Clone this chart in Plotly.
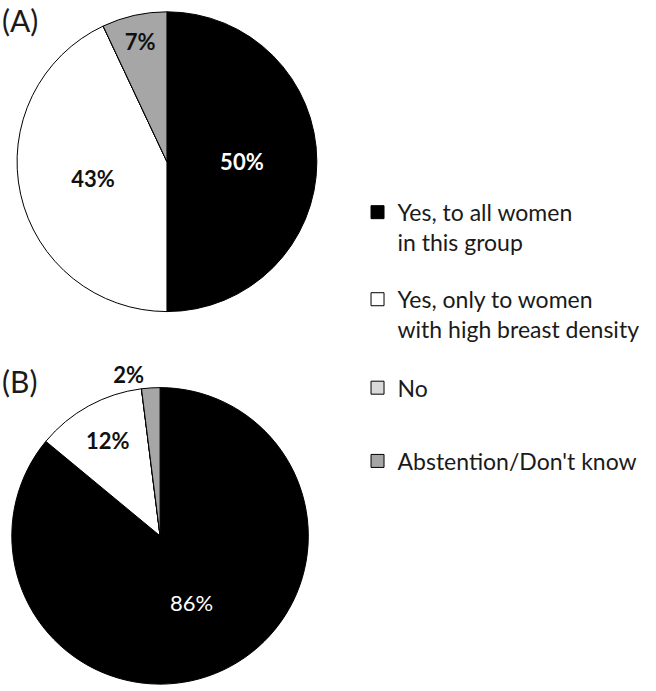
import plotly.graph_objects as go

labels = ["Yes, to all women<br>in this group",
          "Yes, only to women<br>with high breast density",
          "No",
          "Abstention/Don't know"]
colors = ["#000000", "#ffffff", "#d9d9d9", "#a6a6a6"]

# percent of respondents per panel
values_a = [50, 43, 0, 7]
values_b = [86, 12, 0, 2]

FONT = "Lato, 'Open Sans', sans-serif"

fig = go.Figure()

fig.add_trace(go.Pie(
    labels=labels, values=values_a,
    domain=dict(x=[0.026, 0.483], y=[0.549, 0.983]),
    sort=False, direction="clockwise", rotation=0,
    marker=dict(colors=colors, line=dict(color="#000000", width=1)),
    texttemplate=["<b>%{percent:.0%}</b>", "<b>%{percent:.0%}</b>", "", "<b>%{percent:.0%}</b>"],
    textposition=["inside", "inside", "none", "inside"],
    insidetextorientation="horizontal",
    textfont=dict(family=FONT, size=22, color=["#ffffff", "#111111", "#111111", "#111111"]),
    showlegend=False, hoverinfo="label+percent",
))

fig.add_trace(go.Pie(
    labels=labels, values=values_b,
    domain=dict(x=[0.018, 0.47], y=[0.009, 0.44]),
    sort=False, direction="clockwise", rotation=0,
    marker=dict(colors=colors, line=dict(color="#000000", width=1)),
    texttemplate=["%{percent:.0%}", "<b>%{percent:.0%}</b>", "", "<b>%{percent:.0%}</b>"],
    textposition=["inside", "inside", "none", "outside"],
    insidetextorientation="horizontal",
    textfont=dict(family=FONT, size=22, color=["#ffffff", "#111111", "#111111", "#111111"]),
    showlegend=False, hoverinfo="label+percent",
))

# legend entries, one legend each so the spacing can follow the original
legend_ids = ["legend", "legend2", "legend3", "legend4"]
legend_y = [0.724, 0.598, 0.47, 0.364]
for lab, col, lid in zip(labels, colors, legend_ids):
    fig.add_trace(go.Scatter(
        x=[None], y=[None], mode="markers", name=lab, legend=lid,
        marker=dict(symbol="square", size=13, color=col, line=dict(color="#000000", width=1)),
    ))

legend_style = dict(x=0.545, xanchor="left", yanchor="top", valign="top",
                    bgcolor="rgba(0,0,0,0)", font=dict(family=FONT, size=23, color="#1a1a1a"),
                    itemclick=False, itemdoubleclick=False)

fig.update_layout(
    width=656, height=691,
    margin=dict(l=0, r=0, t=0, b=0),
    paper_bgcolor="white", plot_bgcolor="white",
    xaxis=dict(visible=False), yaxis=dict(visible=False),
    legend=dict(y=legend_y[0], **legend_style),
    legend2=dict(y=legend_y[1], **legend_style),
    legend3=dict(y=legend_y[2], **legend_style),
    legend4=dict(y=legend_y[3], **legend_style),
    annotations=[
        dict(text="(A)", x=0.0, y=1.0, xref="paper", yref="paper", xanchor="left", yanchor="top",
             showarrow=False, font=dict(family=FONT, size=30, color="#1a1a1a")),
        dict(text="(B)", x=0.0, y=0.478, xref="paper", yref="paper", xanchor="left", yanchor="top",
             showarrow=False, font=dict(family=FONT, size=30, color="#1a1a1a")),
    ],
)

# drop the browser's default body margin so the figure sits at the page corner
fig.write_html("out.html", config={"displayModeBar": False},
               post_script="document.body.style.margin='0';")
